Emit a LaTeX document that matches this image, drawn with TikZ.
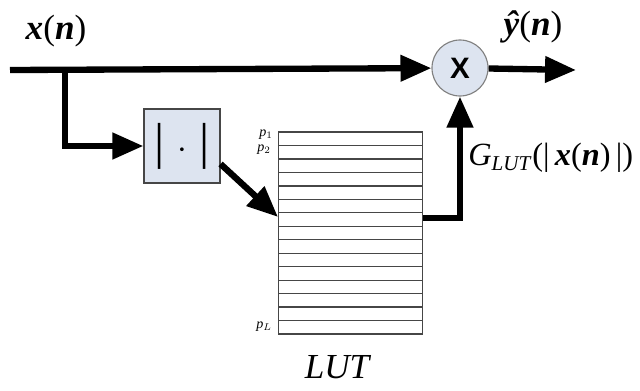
\documentclass[tikz,border=0pt]{standalone}
\usepackage{fontspec}
\setmainfont{Liberation Serif}
\newfontfamily\multfont{Liberation Sans}
\usetikzlibrary{arrows.meta,positioning}
\definecolor{boxfill}{RGB}{221,228,240}
\definecolor{rowline}{RGB}{70,70,70}
\tikzset{
  sig/.style={line width=4.5pt, -{Triangle[length=22pt,width=18pt]}},
  absblk/.style={draw=rowline, line width=0.8pt, fill=boxfill, minimum width=1.9cm, minimum height=1.85cm},
  multblk/.style={circle, draw=gray, line width=0.8pt, fill=boxfill, minimum size=1.4cm, inner sep=0pt},
  lbl/.style={font=\fontsize{25}{27}\selectfont}
}
\begin{document}
\begin{tikzpicture}[x=0.025cm, y=-0.025cm]
\useasboundingbox (0,0) rectangle (640,390);

% blocks
\node[absblk] (absbox) at (182,146) {\fontsize{36}{36}\selectfont |~$\cdot$~|};
\node[multblk] (mult) at (460,68) {\multfont\bfseries\fontsize{21}{21}\selectfont X};
\node[draw=rowline, line width=0.9pt, minimum width=3.6cm, minimum height=5.05cm, inner sep=0pt] (lut) at (350.5,233) {};
\foreach \i in {1,...,14}
  \draw[rowline, line width=0.9pt] (278,132+13.47*\i) -- (423,132+13.47*\i);

% signal points
\coordinate (in) at (10,70);
\coordinate (split) at (65,70);
\coordinate (out) at (576,70);
\coordinate (lutin) at (278,217);
\coordinate (lutout) at (423,218);

% connections
\draw[sig] (in) -- (mult);
\draw[sig] (split) |- (absbox);
\draw[sig] ([yshift=-0.45cm]absbox.east) -- (lutin);
\draw[sig] (lutout) -| (mult);
\draw[sig] (mult) -- (out);

% labels
\node[lbl] (xlbl) at (56,31) {\textbf{\textit{x}}(\textbf{\textit{n}})};
\node[lbl] (ylbl) at (533,27) {\textbf{\textit{\^{y}}}(\textbf{\textit{n}})};
\node[font=\fontsize{23}{25}\selectfont, anchor=west, inner sep=0pt] (glbl) at (468,158) {\textit{G}\textsubscript{\fontsize{15}{15}\selectfont\textit{LUT}}(|\,\textbf{\textit{x}}(\textbf{\textit{n}})\,|)};
\node[font=\fontsize{25}{25}\selectfont\itshape] (lutlbl) at (337,367) {LUT};
\node[font=\fontsize{10}{10}\selectfont, inner sep=0pt] (p1) at (266,135) {\textit{p}$_1$};
\node[font=\fontsize{10}{10}\selectfont, inner sep=0pt] (p2) at (264,150) {\textit{p}$_2$};
\node[font=\fontsize{10}{10}\selectfont, inner sep=0pt] (pL) at (264,327) {\textit{p}$_L$};
\end{tikzpicture}
\end{document}
